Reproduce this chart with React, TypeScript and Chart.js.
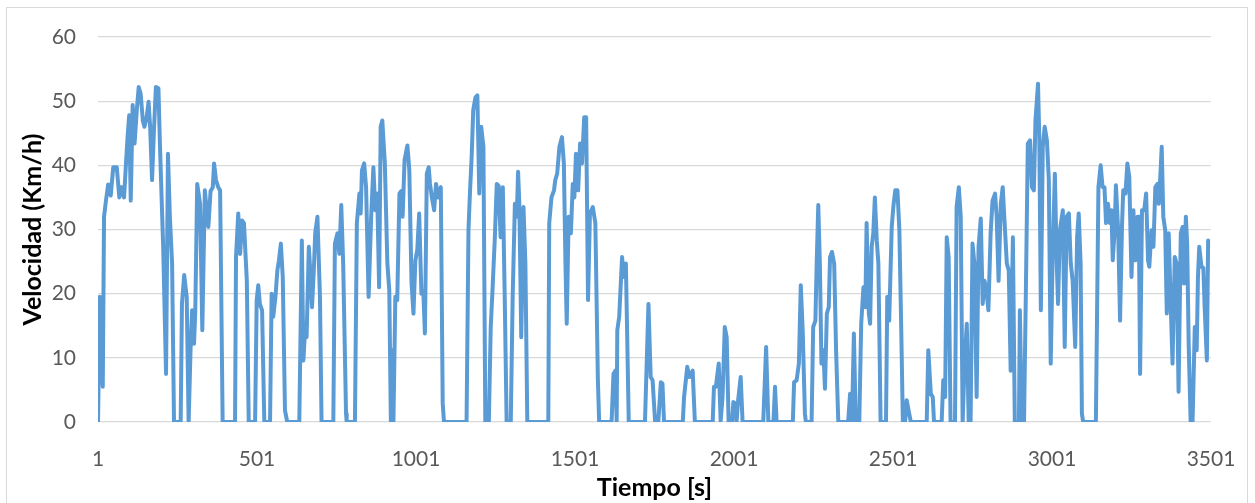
import React, { useEffect, useRef } from "react";
import { Chart, registerables } from "chart.js";

Chart.register(...registerables);

// Time (s) of each read turning point
const timeSeconds = [
  1, 7, 16, 20, 26, 33, 41, 49, 60, 68, 75, 83, 89, 94, 99, 104, 110, 116, 123, 129, 135, 142, 147, 154, 160, 165, 171, 177, 183, 191, 196, 201, 206, 215, 221, 227, 234, 240, 261, 265, 272, 280, 286, 292, 297, 303, 307, 313, 322, 329, 337, 348, 355, 362, 366, 372, 379, 385, 393,
  432, 435, 442, 448, 454, 460, 469, 475, 495, 500, 505, 510, 517, 524, 542, 547, 552, 559, 565, 570, 576, 582, 589, 596, 634, 642, 647, 653, 657, 664, 668, 674, 680, 684, 691, 699, 704,
  741, 746, 754, 760, 766, 772, 781, 783, 809, 815, 823, 827, 831, 838, 844, 852, 860, 867, 873, 879, 885, 890, 895, 903, 911, 917, 922, 926, 930, 936, 942, 949, 955, 959, 965, 974, 980, 987, 993, 999, 1005, 1011, 1018, 1024, 1029, 1035, 1041, 1045, 1051, 1058, 1064, 1071, 1079, 1085, 1089,
  1160, 1166, 1171, 1176, 1181, 1188, 1194, 1200, 1206, 1213, 1219, 1230, 1236, 1242, 1249, 1255, 1261, 1267, 1274, 1280, 1286, 1299, 1305, 1312, 1318, 1322, 1326, 1332, 1339, 1345, 1351,
  1417, 1420, 1427, 1435, 1439, 1445, 1452, 1460, 1466, 1471, 1475, 1481, 1488, 1494, 1499, 1504, 1511, 1517, 1523, 1530, 1536, 1542, 1548, 1557, 1565, 1573, 1577,
  1616, 1622, 1628, 1632, 1634, 1640, 1649, 1655, 1661, 1670, 1721, 1732, 1739, 1745, 1753, 1763, 1771, 1776, 1781, 1840, 1844, 1854, 1861, 1871, 1878, 1934, 1938, 1944, 1953, 1959, 1965, 1972, 1978, 1984, 1995, 1999, 2005, 2009, 2014, 2022, 2028,
  2093, 2102, 2109, 2125, 2130, 2135, 2186, 2190, 2198, 2205, 2211, 2217, 2224, 2227, 2245, 2250, 2257, 2261, 2266, 2271, 2276, 2282, 2287, 2293, 2299, 2303, 2309, 2316, 2322, 2329,
  2360, 2366, 2372, 2378, 2384, 2395, 2401, 2408, 2414, 2418, 2425, 2429, 2434, 2439, 2444, 2450, 2455, 2462, 2479, 2483, 2489, 2497, 2502, 2508, 2515, 2521, 2527, 2532, 2539, 2544, 2550, 2557,
  2607, 2612, 2620, 2626, 2630, 2654, 2659, 2665, 2670, 2676, 2682, 2696, 2701, 2708, 2714, 2720, 2726, 2733, 2739, 2745, 2751, 2757, 2764, 2770, 2777, 2783, 2789, 2795, 2801, 2808, 2814, 2822, 2827, 2833, 2840, 2846, 2852, 2859, 2865, 2871, 2878, 2884, 2897, 2900, 2906, 2913,
  2919, 2925, 2932, 2938, 2944, 2949, 2957, 2961, 2966, 2972, 2978, 2985, 2991, 2997, 3003, 3010, 3016, 3020, 3026, 3035, 3041, 3047, 3054, 3060, 3066, 3074, 3080, 3085, 3091, 3095, 3099,
  3139, 3147, 3154, 3160, 3166, 3171, 3177, 3183, 3188, 3192, 3198, 3202, 3209, 3215, 3221, 3225, 3232, 3238, 3244, 3251, 3257, 3263, 3270, 3274, 3278, 3284, 3291, 3297, 3303, 3307, 3314, 3320, 3326, 3333, 3337, 3343, 3346, 3351, 3357, 3362, 3368, 3374, 3380, 3387, 3393, 3399, 3406, 3412, 3416, 3422, 3426, 3431, 3437, 3443, 3450, 3456, 3460, 3464, 3471, 3477, 3481, 3488, 3492,
];

// Speed (km/h) at each of those times
const speedKmh = [
  0, 19.5, 5.5, 32, 34.5, 37, 35.3, 39.7, 39.7, 35, 36.6, 35, 40.3, 44.4, 47.8, 34.5, 49.4, 43.4, 48.6, 52.2, 51.2, 47, 46, 47.5, 49.9, 46, 37.7, 45.5, 52.2, 52, 42.9, 35, 27.3, 7.5, 41.8, 32, 24.7, 0, 0, 18.4, 22.9, 19.5, 0, 11.2, 17.4, 12.2, 17.4, 37.1, 34, 14.3, 36.1, 30.4, 36, 36.6, 40.3, 37.7, 36.6, 36.1, 0,
  0, 25.7, 32.5, 26.2, 31.4, 31, 22, 0, 0, 19, 21.3, 18.4, 17.4, 0, 0, 20, 16.4, 19.5, 23.6, 25.2, 27.8, 22.6, 1.8, 0, 0, 28.3, 9.6, 15.3, 13.2, 27.3, 24, 17.9, 24, 29.4, 32, 19.5, 0,
  0, 27.8, 29.4, 26.2, 33.8, 24.7, 1.3, 0, 0, 31, 35.6, 32.5, 39.2, 40.3, 36.6, 19.5, 32, 39.7, 33, 35.6, 21, 46, 47, 40.3, 24.7, 20.5, 0, 11.2, 0, 19.5, 19, 35.6, 36, 32, 40.8, 43.1, 39.2, 21.6, 16.9, 25.2, 26.8, 32.5, 20, 20.3, 13.8, 38.7, 39.7, 37.1, 35, 33, 37.1, 35, 36.6, 2.9, 0,
  0, 29.9, 36.1, 41.3, 48.6, 50.6, 50.9, 35.6, 46, 42.9, 0, 0, 14.8, 21, 28.8, 37.1, 36.8, 28.8, 36.6, 19.5, 0, 0, 19.5, 34, 32, 39, 34, 13.2, 33.5, 24.7, 0,
  0, 31, 35, 36.1, 37.7, 38.7, 42.9, 44.4, 40.3, 24.7, 15.3, 32, 29.4, 37.1, 35, 41.8, 36.1, 43.4, 40.3, 47.5, 47.5, 19, 32.5, 33.5, 31, 6.5, 0,
  0, 7.5, 8, 0, 14.3, 16.4, 25.7, 22.6, 24.7, 0, 0, 18.4, 7, 6.5, 0, 0, 6.2, 6, 0, 0, 3.9, 8.6, 7, 8, 0, 0, 5.5, 5.5, 9.1, 0.2, 3.9, 14.8, 13.2, 0, 0, 3.1, 2.9, 0, 3.4, 7, 0,
  0, 11.7, 0, 0, 5.5, 0, 0, 6.2, 6.5, 9.1, 21.3, 14.3, 1.3, 0, 0, 14.8, 15.8, 24.7, 33.8, 24.7, 9.1, 11.2, 5.2, 16.9, 17.9, 25.7, 26.5, 24.7, 11.2, 0,
  0, 4.4, 0, 13.8, 0, 0, 15.3, 21, 17.9, 31, 17, 15.3, 27.3, 29.4, 35, 28.3, 24.7, 0, 0, 19.5, 15.8, 30.4, 33.5, 36.1, 36.1, 29.9, 14.3, 0, 0, 3.4, 1.8, 0,
  0, 11.2, 4.4, 3.9, 0, 0, 6.5, 3.9, 28.8, 25.7, 0, 0, 33.5, 36.6, 32, 0, 9.1, 15.3, 0, 0, 27.8, 24.7, 3.9, 27.3, 31.7, 18.4, 22, 20.5, 17.4, 29.4, 34.5, 35.6, 32, 22, 34, 36.6, 31, 24.7, 23.6, 8, 28.8, 0, 0, 17.4, 0, 0,
  21, 43.4, 43.9, 36.6, 36.1, 47, 52.7, 44.4, 17.4, 42.9, 46, 43.9, 37.7, 9.1, 25.7, 38.7, 24.7, 18.4, 29.9, 33, 11.7, 32, 32.5, 24.7, 22, 11.7, 28.8, 32.5, 24.7, 1.3, 0,
  0, 36.6, 40, 36.6, 36.6, 31, 34, 31, 33, 25.2, 29.9, 36.9, 29.9, 15.8, 30.4, 36.1, 35.6, 40.3, 38.2, 22.6, 33, 25.2, 32, 32, 7.5, 33, 33, 35.6, 25.2, 24.2, 29.9, 27.3, 36.6, 37.1, 34, 39.7, 42.9, 32, 29.9, 16.9, 29.4, 19, 9.1, 25.7, 24.7, 4.7, 29.4, 30.4, 21.6, 32, 27.8, 11.7, 0, 0, 14.8, 11.2, 22.6, 27.3, 24.2, 24, 17.9, 9.6, 28.3,
];

const xTickValues = [1, 501, 1001, 1501, 2001, 2501, 3001, 3501];
const yTickValues = [0, 10, 20, 30, 40, 50, 60];
const xAxisTitle = "Tiempo [s]";
const yAxisTitle = "Velocidad (Km/h)";

export default function App() {
  const canvasRef = useRef<HTMLCanvasElement | null>(null);

  useEffect(() => {
    const canvas = canvasRef.current;
    if (!canvas) return;
    const points = timeSeconds.map((t, i) => ({ x: t, y: speedKmh[i] }));
    const chart = new Chart(canvas, {
      type: "line",
      data: {
        datasets: [
          {
            data: points,
            borderColor: "#5B9BD5",
            borderWidth: 4,
            pointRadius: 0,
            tension: 0,
            fill: false,
            borderJoinStyle: "round",
            borderCapStyle: "round",
          },
        ],
      },
      options: {
        animation: false,
        responsive: false,
        layout: { padding: { left: 0, right: 44, top: 37, bottom: 0 } },
        plugins: { legend: { display: false }, tooltip: { enabled: false } },
        scales: {
          x: {
            type: "linear",
            min: 1,
            max: 3501,
            afterBuildTicks: (s: any) => {
              s.ticks = xTickValues.map((v) => ({ value: v }));
            },
            afterFit: (s: any) => {
              s.height = 81;
            },
            grid: { display: false },
            border: { display: false },
            ticks: {
              color: "#595959",
              font: { family: "Lato", size: 21 },
              padding: 17,
              maxRotation: 0,
              autoSkip: false,
              callback: (v: any) => String(v),
            },
            title: {
              display: true,
              text: xAxisTitle,
              color: "#000000",
              font: { family: "Lato", size: 25, weight: "bold", lineHeight: 1.2 },
              padding: { top: 0, bottom: 0 },
            },
          },
          y: {
            min: 0,
            max: 60,
            afterBuildTicks: (s: any) => {
              s.ticks = yTickValues.map((v) => ({ value: v }));
            },
            afterFit: (s: any) => {
              s.width = 98;
            },
            grid: { color: "#d9d9d9", lineWidth: 1.2, drawTicks: false },
            border: { display: false },
            ticks: {
              color: "#595959",
              font: { family: "Lato", size: 21 },
              padding: 22,
              callback: (v: any) => String(v),
            },
            title: {
              display: true,
              text: yAxisTitle,
              color: "#000000",
              font: { family: "Lato", size: 25, weight: "bold", lineHeight: 1.2 },
              padding: { top: 18, bottom: 0 },
            },
          },
        },
      },
    });
    return () => chart.destroy();
  }, []);

  return (
    <div
      style={{
        position: "fixed",
        left: 0,
        top: 0,
        width: 1255,
        height: 503,
        overflow: "hidden",
        background: "#ffffff",
      }}
    >
      <div
        style={{
          position: "absolute",
          left: 6,
          top: 7,
          width: 1242,
          height: 520,
          border: "1px solid #d9d9d9",
          boxSizing: "border-box",
        }}
      />
      <canvas
        ref={canvasRef}
        width={1255}
        height={503}
        style={{ position: "absolute", left: 0, top: 0, width: 1255, height: 503, display: "block" }}
      />
    </div>
  );
}
